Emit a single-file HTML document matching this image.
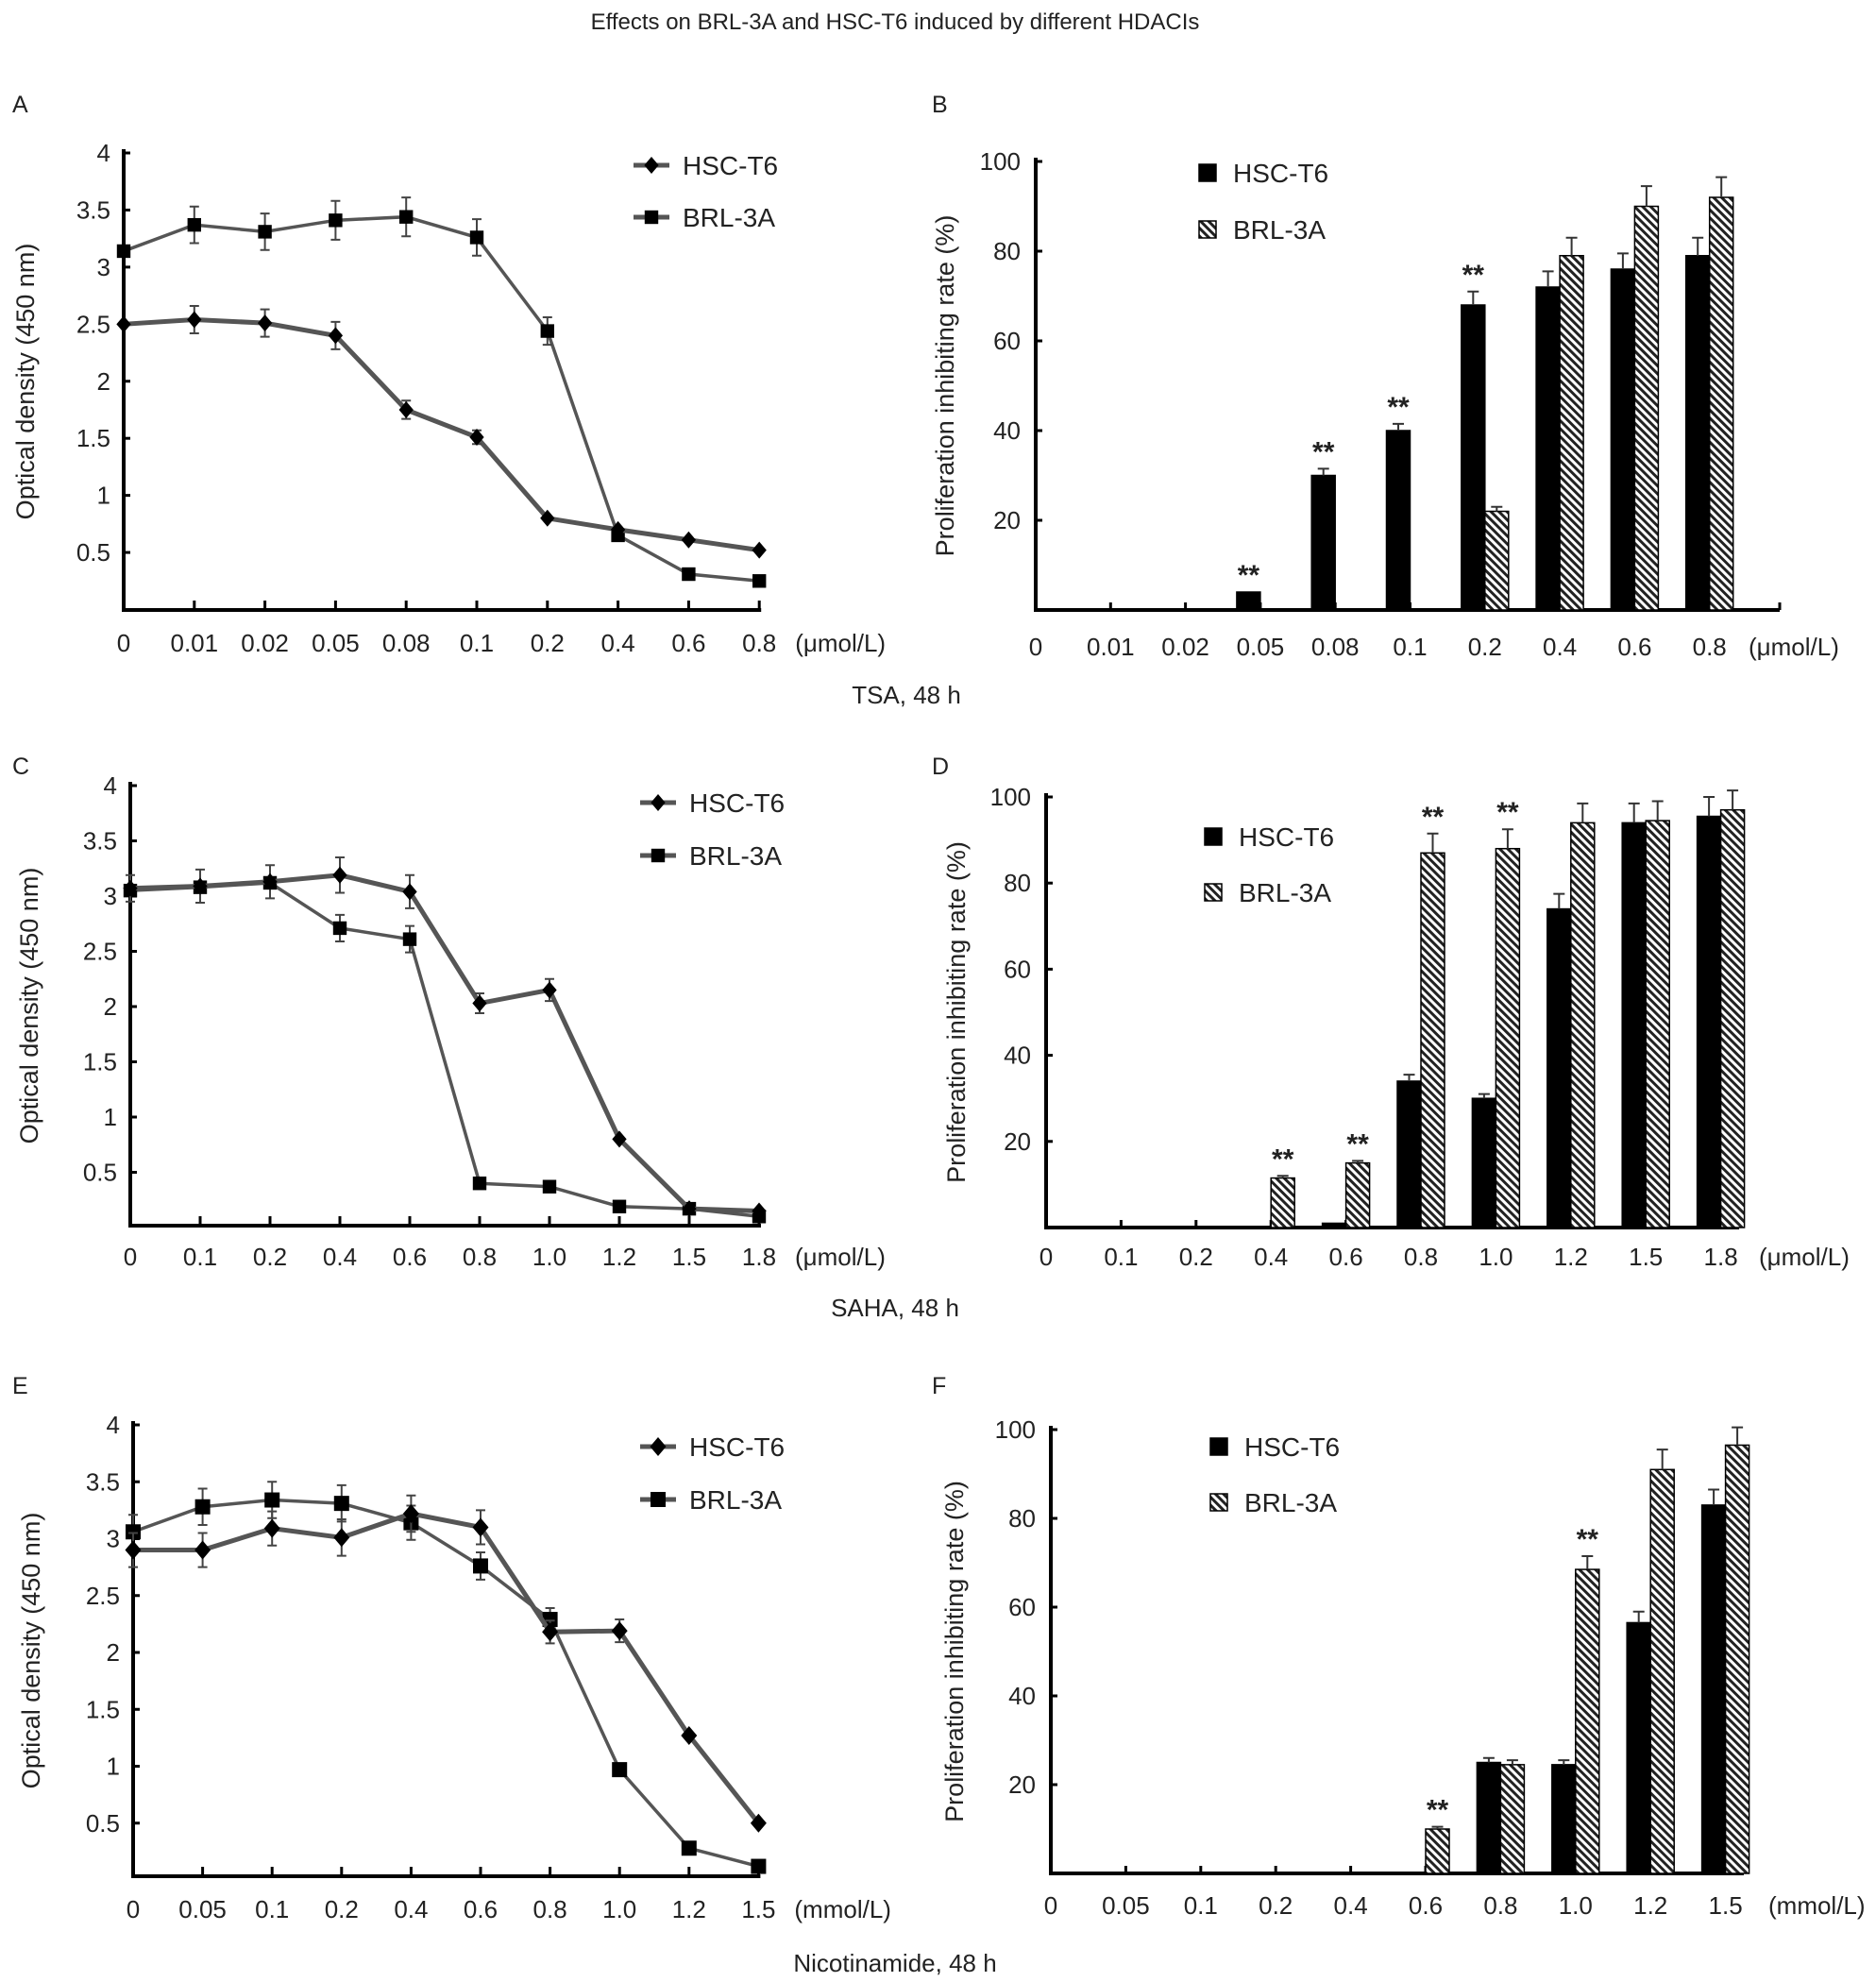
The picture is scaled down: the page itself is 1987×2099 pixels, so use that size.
<!DOCTYPE html>
<html><head><meta charset="utf-8">
<style>
html,body{margin:0;padding:0;background:#fff;}
svg{display:block;font-family:"Liberation Sans",Arial,sans-serif;}
</style></head>
<body>
<svg id="fig" width="1987" height="2099" viewBox="0 0 1987 2099" xmlns="http://www.w3.org/2000/svg">
<defs>
<pattern id="hatch" patternUnits="userSpaceOnUse" width="6" height="6" patternTransform="rotate(-45)">
<rect width="6" height="6" fill="#fff"/>
<rect width="3" height="6" fill="#222"/>
</pattern>
</defs>
<text x="948" y="31" text-anchor="middle" font-size="24" fill="#222">Effects on BRL-3A and HSC-T6 induced by different HDACIs</text>
<text x="960" y="745" text-anchor="middle" font-size="26" fill="#222">TSA, 48 h</text>
<text x="948" y="1394" text-anchor="middle" font-size="26" fill="#222">SAHA, 48 h</text>
<text x="948" y="2088" text-anchor="middle" font-size="26" fill="#222">Nicotinamide, 48 h</text>
</svg>
<script>
// Panel A (TSA line)
const catsA = ['0','0.01','0.02','0.05','0.08','0.1','0.2','0.4','0.6','0.8'];
const hscA = [2.5,2.54,2.51,2.4,1.75,1.51,0.8,0.7,0.61,0.52];
const hscAerr = [0,0.12,0.12,0.12,0.08,0.06,0,0,0,0];
const brlA = [3.14,3.37,3.31,3.41,3.44,3.26,2.44,0.65,0.31,0.25];
const brlAerr = [0,0.16,0.16,0.17,0.17,0.16,0.12,0,0,0];
// Panel B (TSA bars)
const hscB = [0,0,0,4,30,40,68,72,76,79];
const hscBerr = [0,0,0,0,1.5,1.5,3,3.5,3.5,4];
const brlB = [0,0,0,0,0,0,22,79,90,92];
const brlBerr = [0,0,0,0,0,0,1,4,4.5,4.5];
const starsB = [3,4,5,6];
// Panel C (SAHA line)
const catsC = ['0','0.1','0.2','0.4','0.6','0.8','1.0','1.2','1.5','1.8'];
const hscC = [3.07,3.09,3.13,3.19,3.04,2.03,2.15,0.8,0.17,0.15];
const hscCerr = [0.12,0.15,0.15,0.16,0.15,0.09,0.1,0,0,0];
const brlC = [3.05,3.08,3.12,2.71,2.61,0.4,0.37,0.19,0.17,0.1];
const brlCerr = [0,0,0,0.12,0.12,0,0,0,0,0];
// Panel D (SAHA bars)
const hscD = [0,0,0,0,1,34,30,74,94,95.5];
const hscDerr = [0,0,0,0,0,1.5,1,3.5,4.5,4.5];
const brlD = [0,0,0,11.5,15,87,88,94,94.5,97];
const brlDerr = [0,0,0,0.5,0.5,4.5,4.5,4.5,4.5,4.5];
const starsD = [3,4,5,6];
// Panel E (Nicotinamide line)
const catsE = ['0','0.05','0.1','0.2','0.4','0.6','0.8','1.0','1.2','1.5'];
const hscE = [2.9,2.9,3.09,3.01,3.22,3.1,2.18,2.19,1.27,0.5];
const hscEerr = [0.15,0.15,0.15,0.16,0.16,0.15,0.1,0.1,0,0];
const brlE = [3.06,3.28,3.34,3.31,3.14,2.76,2.29,0.97,0.28,0.12];
const brlEerr = [0.15,0.16,0.16,0.16,0.15,0.12,0.1,0,0,0];
// Panel F (Nicotinamide bars)
const hscF = [0,0,0,0,0,0,25,24.5,56.5,83];
const hscFerr = [0,0,0,0,0,0,1,1,2.5,3.5];
const brlF = [0,0,0,0,0,10,24.5,68.5,91,96.5];
const brlFerr = [0,0,0,0,0,0.5,1,3,4.5,4];
const starsF = [5,7];
const odTicks = [0.5,1,1.5,2,2.5,3,3.5,4];
const odTickLabels = ['0.5','1','1.5','2','2.5','3','3.5','4'];
const pctTicks = [20,40,60,80,100];

const NS='http://www.w3.org/2000/svg';
const svg=document.getElementById('fig');
function mk(tag,attrs,parent){const e=document.createElementNS(NS,tag);for(const k in attrs)e.setAttribute(k,attrs[k]);(parent||svg).appendChild(e);return e;}
function txt(x,y,s,size,anchor,parent){const t=mk('text',{x:x,y:y,'font-size':size,'text-anchor':anchor||'start',fill:'#222'},parent);t.textContent=s;return t;}

function lineChart(o){
  const g=mk('g',{});
  
  
  const X=i=>o.x0+i*o.dx, Y=v=>o.y0-(v/4)*(o.y0-o.y4);
  const pl=txt(o.lx,o.ly,o.letter,25,'start',g);
  
  
  const ax=mk('g',{},g);
  
  
  mk('line',{x1:o.x0,y1:o.y4-4,x2:o.x0,y2:o.axisY+2,stroke:'#000','stroke-width':4},ax);
  mk('line',{x1:o.x0-2,y1:o.axisY,x2:X(9)+2,y2:o.axisY,stroke:'#000','stroke-width':4},ax);
  odTicks.forEach((v,i)=>{
    mk('line',{x1:o.x0,y1:Y(v),x2:o.x0+7,y2:Y(v),stroke:'#000','stroke-width':3},ax);
    const t=txt(o.x0-14,Y(v)+9,odTickLabels[i],26,'end',ax);
    
    
  });
  o.cats.forEach((c,i)=>{
    mk('line',{x1:X(i),y1:o.axisY,x2:X(i),y2:o.axisY-10,stroke:'#000','stroke-width':3},ax);
    const t=txt(X(i),o.xly,c,26,'middle',ax);
    
    
  });
  const u=txt(X(9)+38,o.xly,o.unit,26,'start',ax);
  
  
  const yl=txt(0,0,'Optical density (450 nm)',27,'middle',ax);
  yl.setAttribute('transform','translate('+o.ylx+','+((o.y4+o.axisY)/2)+') rotate(-90)');
  
  
  function series(vals,errs,name,marker,sw){
    const sg=mk('g',{},g);
    
    
    mk('polyline',{points:vals.map((v,i)=>X(i)+','+Y(v)).join(' '),fill:'none',stroke:'#555','stroke-width':sw},sg);
    vals.forEach((v,i)=>{
      if(errs[i]>0){
        const e=Y(v+errs[i]),e2=Y(v-errs[i]);
        mk('path',{d:'M'+X(i)+' '+e+'V'+e2+'M'+(X(i)-5)+' '+e+'H'+(X(i)+5)+'M'+(X(i)-5)+' '+e2+'H'+(X(i)+5),stroke:'#444','stroke-width':2,fill:'none'},sg);
      }
      marker(sg,X(i),Y(v));
    });
  }
  const ms=o.ms;
  const dia=(p,x,y)=>mk('polygon',{points:(x)+','+(y-ms)+' '+(x+ms*0.85)+','+y+' '+x+','+(y+ms)+' '+(x-ms*0.85)+','+y,fill:'#000'},p);
  const sq=(p,x,y)=>mk('rect',{x:x-ms*0.8,y:y-ms*0.8,width:ms*1.6,height:ms*1.6,fill:'#000'},p);
  series(o.brl,o.brlErr,'series-brl-3a',sq,3.5);
  series(o.hsc,o.hscErr,'series-hsc-t6',dia,5);
  const lg=mk('g',{},g);
  
  
  [[o.legY1,'HSC-T6',dia],[o.legY2,'BRL-3A',sq]].forEach(([y,l,m])=>{
    const e=mk('g',{},lg);
    
    
    mk('line',{x1:o.legX,y1:y,x2:o.legX+38,y2:y,stroke:'#555','stroke-width':5},e);
    m(e,o.legX+19,y);
    txt(o.legX+52,y+10,l,28,'start',e);
  });
}

function barChart(o){
  const g=mk('g',{});
  
  
  const X=i=>o.x0+i*o.dx, Y=v=>o.y0-(v/100)*(o.y0-o.y100);
  const pl=txt(o.lx,o.ly,o.letter,25,'start',g);
  
  
  const ax=mk('g',{},g);
  
  
  mk('line',{x1:o.x0,y1:o.y100-4,x2:o.x0,y2:o.y0+2,stroke:'#000','stroke-width':4},ax);
  mk('line',{x1:o.x0-2,y1:o.y0,x2:o.xEnd,y2:o.y0,stroke:'#000','stroke-width':4},ax);
  pctTicks.forEach(v=>{
    mk('line',{x1:o.x0,y1:Y(v),x2:o.x0+7,y2:Y(v),stroke:'#000','stroke-width':3},ax);
    const t=txt(o.x0-16,Y(v)+9,String(v),26,'end',ax);
    
    
  });
  o.cats.forEach((c,i)=>{
    mk('line',{x1:X(i),y1:o.y0,x2:X(i),y2:o.y0-8,stroke:'#000','stroke-width':3},ax);
    const t=txt(X(i),o.xly,c,26,'middle',ax);
    
    
  });
  mk('line',{x1:o.xEnd,y1:o.y0,x2:o.xEnd,y2:o.y0-8,stroke:'#000','stroke-width':3},ax);
  const u=txt(o.unitX,o.xly,o.unit,26,'start',ax);
  
  
  const yl=txt(0,0,'Proliferation inhibiting rate (%)',27,'middle',ax);
  yl.setAttribute('transform','translate('+o.ylx+','+((o.y100+o.y0)/2)+') rotate(-90)');
  
  
  const bw=25;
  function bars(vals,errs,name,fill,off){
    const sg=mk('g',{},g);
    
    
    vals.forEach((v,i)=>{
      if(v<=0)return;
      const x=X(i)+off;
      const r=mk('rect',{x:x,y:Y(v),width:bw,height:o.y0-Y(v),fill:fill,stroke:'#000','stroke-width':1.5},sg);
      
      
      if(errs[i]>0){
        const cx=x+bw/2,e=Y(v+errs[i]);
        mk('path',{d:'M'+cx+' '+Y(v)+'V'+e+'M'+(cx-6)+' '+e+'H'+(cx+6),stroke:'#333','stroke-width':2,fill:'none'},sg);
      }
    });
  }
  bars(o.hsc,o.hscErr,'series-hsc-t6','#000',-bw);
  bars(o.brl,o.brlErr,'series-brl-3a','url(#hatch)',0);
  o.stars.forEach(i=>{
    const useH=o.starOn==='hsc';
    const v=useH?o.hsc[i]:o.brl[i], e=useH?o.hscErr[i]:o.brlErr[i];
    const cx=X(i)+(useH?-bw/2:bw/2);
    const t=txt(cx,Y(v+e)-8,'**',30,'middle',g);
    t.setAttribute('font-weight','bold');
    
    
  });
  const lg=mk('g',{},g);
  
  
  [[o.legY1,'HSC-T6','#000'],[o.legY2,'BRL-3A','url(#hatch)']].forEach(([y,l,f])=>{
    const e=mk('g',{},lg);
    
    
    mk('rect',{x:o.legX,y:y-9,width:18,height:18,fill:f,stroke:'#000','stroke-width':1.5},e);
    txt(o.legX+36,y+10,l,28,'start',e);
  });
}

lineChart({name:'chart-a-tsa-optical-density',letter:'A',lx:13,ly:119,cats:catsA,x0:131,dx:74.8,y4:162,y0:645.5,axisY:646,xly:690,unit:'(μmol/L)',ylx:36,ms:9,
  hsc:hscA,hscErr:hscAerr,brl:brlA,brlErr:brlAerr,legX:671,legY1:175,legY2:230});
barChart({name:'chart-b-tsa-inhibition',letter:'B',lx:987,ly:119,cats:catsA,x0:1097,dx:79.3,y100:171,y0:646,xEnd:1885,xly:694,unit:'(μmol/L)',unitX:1852,ylx:1010,
  hsc:hscB,hscErr:hscBerr,brl:brlB,brlErr:brlBerr,stars:starsB,starOn:'hsc',legX:1270,legY1:183,legY2:243});
lineChart({name:'chart-c-saha-optical-density',letter:'C',lx:13,ly:820,cats:catsC,x0:138,dx:74,y4:832,y0:1300,axisY:1298,xly:1340,unit:'(μmol/L)',ylx:40,ms:9,
  hsc:hscC,hscErr:hscCerr,brl:brlC,brlErr:brlCerr,legX:678,legY1:850,legY2:906});
barChart({name:'chart-d-saha-inhibition',letter:'D',lx:987,ly:820,cats:catsC,x0:1108,dx:79.4,y100:844,y0:1300,xEnd:1842,xly:1340,unit:'(μmol/L)',unitX:1863,ylx:1022,
  hsc:hscD,hscErr:hscDerr,brl:brlD,brlErr:brlDerr,stars:starsD,starOn:'brl',legX:1276,legY1:886,legY2:945});
lineChart({name:'chart-e-nicotinamide-optical-density',letter:'E',lx:13,ly:1476,cats:catsE,x0:141,dx:73.6,y4:1509,y0:1991,axisY:1987,xly:2031,unit:'(mmol/L)',ylx:42,ms:10,
  hsc:hscE,hscErr:hscEerr,brl:brlE,brlErr:brlEerr,legX:678,legY1:1532,legY2:1588});
barChart({name:'chart-f-nicotinamide-inhibition',letter:'F',lx:987,ly:1476,cats:catsE,x0:1113,dx:79.4,y100:1514,y0:1984,xEnd:1847,xly:2027,unit:'(mmol/L)',unitX:1873,ylx:1020,
  hsc:hscF,hscErr:hscFerr,brl:brlF,brlErr:brlFerr,stars:starsF,starOn:'brl',legX:1282,legY1:1532,legY2:1591});
</script>
</body></html>
